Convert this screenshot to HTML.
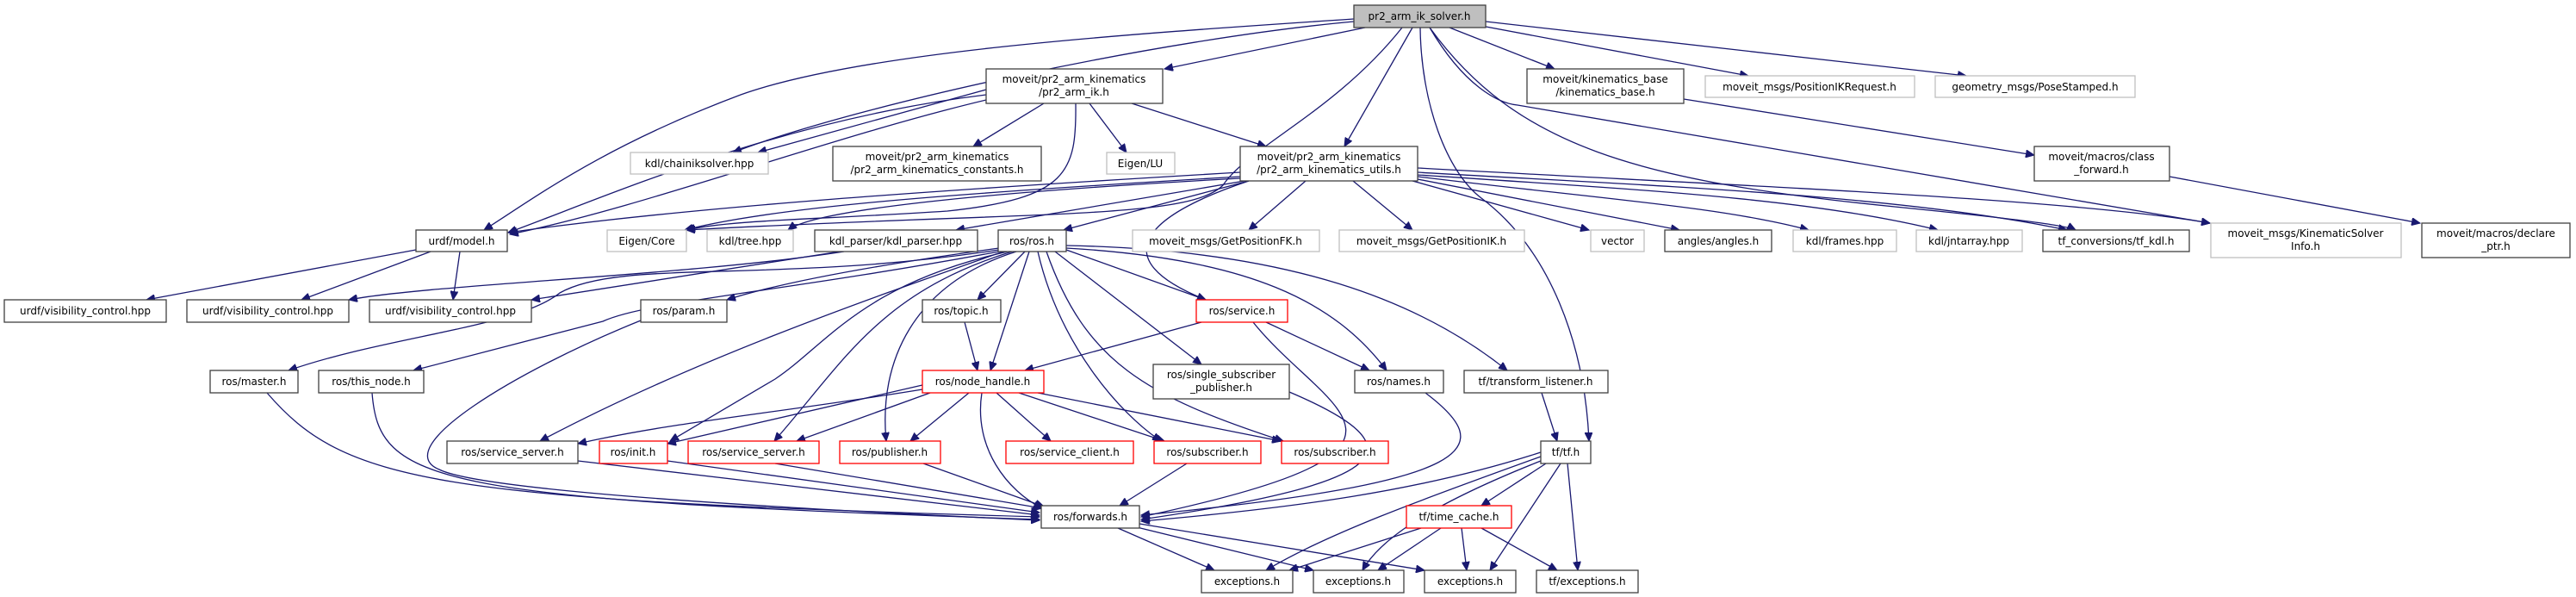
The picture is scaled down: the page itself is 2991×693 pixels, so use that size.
<!DOCTYPE html>
<html><head><meta charset="utf-8"><style>
html,body{margin:0;padding:0;background:#fff;}
svg{display:block;}
text{font-family:"DejaVu Sans","Liberation Sans",sans-serif;font-size:12px;fill:#000;text-anchor:middle;}
.e{fill:none;stroke:#191970;stroke-width:1.3;marker-end:url(#a);}
.b{fill:#fff;stroke:#404040;stroke-width:1.3;}
.g{fill:#fff;stroke:#bfbfbf;stroke-width:1.3;}
.r{fill:#fff;stroke:#ff0000;stroke-width:1.3;}
.s{fill:#bfbfbf;stroke:#404040;stroke-width:1.3;}
</style></head><body>
<svg width="2991" height="693" viewBox="0 0 2991 693" xmlns="http://www.w3.org/2000/svg">
<defs><marker id="a" markerUnits="userSpaceOnUse" markerWidth="11" markerHeight="9" refX="10" refY="4.5" orient="auto"><path d="M0,0 L10,4.5 L0,9 z" fill="#191970" stroke="#191970"/></marker></defs>
<g>
<!-- S edges -->
<path class="e" d="M1572,22 C1300,40 1000,60 860,110 C700,170 620,230 562,267"/>
<path class="e" d="M1572,25 C1350,45 1000,120 851,177"/>
<path class="e" d="M1585,32 L1352,80"/>
<path class="e" d="M1640,32 L1561,170"/>
<path class="e" d="M1683,32 L1805,80"/>
<path class="e" d="M1720,30 L2030,88"/>
<path class="e" d="M1725,25 L2283,88"/>
<path class="e" d="M1660,32 C1700,100 1740,120 1762,122 L2566,259"/>
<path class="e" d="M1649,32 C1650,120 1680,200 1720,230 C1800,290 1840,400 1845,512"/>
<path class="e" d="M1628,32 C1550,130 1450,170 1420,215 C1380,255 1200,245 797,267"/>
<path class="e" d="M1660,32 C1760,170 1900,210 2200,240 C2350,255 2400,262 2410,267"/>
<!-- A edges -->
<path class="e" d="M1145,110 C900,140 700,230 590,270"/>
<path class="e" d="M1145,116 C960,160 750,240 592,272"/>
<path class="e" d="M1145,104 L880,177"/>
<path class="e" d="M1212,120 L1130,170"/>
<path class="e" d="M1265,120 L1308,177"/>
<path class="e" d="M1314,120 L1470,170"/>
<path class="e" d="M1249,120 C1250,200 1240,230 1100,245 C950,255 850,255 797,267"/>
<!-- U edges -->
<path class="e" d="M1440,200 C1100,220 800,240 590,270"/>
<path class="e" d="M1440,205 C1100,225 900,240 795,267"/>
<path class="e" d="M1440,207 C1200,220 950,240 915,267"/>
<path class="e" d="M1445,210 L1110,267"/>
<path class="e" d="M1450,210 L1235,267"/>
<path class="e" d="M1516,210 L1450,267"/>
<path class="e" d="M1571,210 L1640,267"/>
<path class="e" d="M1640,210 L1845,267"/>
<path class="e" d="M1646,208 L1950,267"/>
<path class="e" d="M1646,205 C1850,230 2000,240 2100,267"/>
<path class="e" d="M1646,203 C1900,220 2100,230 2250,267"/>
<path class="e" d="M1646,200 C1900,215 2200,225 2400,267"/>
<path class="e" d="M1646,195 C2000,215 2400,230 2566,259"/>
<path class="e" d="M1450,210 C1330,250 1280,300 1400,348"/>
<!-- kinbase / macros -->
<path class="e" d="M1955,115 L2362,180"/>
<path class="e" d="M2519,205 L2810,259"/>
<!-- urdf -->
<path class="e" d="M483,290 L170,348"/>
<path class="e" d="M500,292 L350,348"/>
<path class="e" d="M534,292 L526,348"/>
<path class="e" d="M980,292 C800,320 500,330 405,348"/>
<path class="e" d="M975,292 L617,348"/>
<!-- ros.h -->
<path class="e" d="M1160,290 C900,330 720,300 650,340 C600,380 450,390 335,430"/>
<path class="e" d="M1160,292 C900,340 750,350 700,373 L480,430"/>
<path class="e" d="M1160,288 C1000,310 900,330 844,348"/>
<path class="e" d="M1165,292 C1000,350 800,420 627,512"/>
<path class="e" d="M1170,292 C1000,330 960,400 900,440 L778,512"/>
<path class="e" d="M1175,292 C1020,340 980,420 899,512"/>
<path class="e" d="M1180,292 C1060,330 1020,420 1029,512"/>
<path class="e" d="M1190,292 L1135,348"/>
<path class="e" d="M1195,292 L1150,430"/>
<path class="e" d="M1205,292 C1230,400 1300,480 1348,512"/>
<path class="e" d="M1215,292 C1260,420 1330,460 1490,512"/>
<path class="e" d="M1225,292 L1395,423"/>
<path class="e" d="M1238,290 L1400,348"/>
<path class="e" d="M1238,288 C1450,300 1550,350 1610,430"/>
<path class="e" d="M1238,285 C1500,290 1650,350 1750,430"/>
<!-- mid -->
<path class="e" d="M1120,374 L1135,430"/>
<path class="e" d="M1395,374 L1190,430"/>
<path class="e" d="M1470,374 L1590,430"/>
<path class="e" d="M1455,374 C1540,480 1700,520 1325,600"/>
<path class="e" d="M1497,455 C1650,520 1620,560 1325,603"/>
<path class="e" d="M1655,456 C1740,520 1720,560 1325,598"/>
<path class="e" d="M1790,456 L1808,512"/>
<path class="e" d="M1789,525 C1650,570 1500,590 1325,605"/>
<path class="e" d="M1795,538 L1720,587"/>
<path class="e" d="M1789,530 C1650,580 1540,620 1470,662"/>
<path class="e" d="M1789,535 C1650,590 1600,630 1582,662"/>
<path class="e" d="M1812,538 L1730,662"/>
<path class="e" d="M1820,538 L1832,662"/>
<path class="e" d="M1650,613 L1497,662"/>
<path class="e" d="M1673,613 L1600,662"/>
<path class="e" d="M1697,613 L1703,662"/>
<path class="e" d="M1720,613 L1808,662"/>
<path class="e" d="M1298,613 L1410,662"/>
<path class="e" d="M1320,612 L1525,662"/>
<path class="e" d="M1323,608 L1654,662"/>
<path class="e" d="M1071,452 C900,480 780,490 671,515"/>
<path class="e" d="M1071,447 L775,515"/>
<path class="e" d="M1080,456 L925,512"/>
<path class="e" d="M1125,456 L1057,512"/>
<path class="e" d="M1157,456 L1220,512"/>
<path class="e" d="M1183,456 L1352,512"/>
<path class="e" d="M1205,456 L1487,512"/>
<path class="e" d="M1140,456 C1130,520 1170,570 1210,590"/>
<path class="e" d="M310,456 C400,560 500,580 1207,600"/>
<path class="e" d="M432,456 C440,560 500,580 1207,603"/>
<path class="e" d="M744,372 C600,430 450,520 510,545 C560,570 900,590 1207,604"/>
<path class="e" d="M671,535 L1207,598"/>
<path class="e" d="M775,535 L1207,595"/>
<path class="e" d="M900,538 L1210,590"/>
<path class="e" d="M1072,538 L1212,588"/>
<path class="e" d="M1378,538 L1300,587"/>
</g>
<g>
<rect class="s" x="1572" y="6" width="153" height="26"/><text x="1648" y="23">pr2_arm_ik_solver.h</text>
<rect class="b" x="1145" y="80" width="205" height="40"/><text x="1247" y="96">moveit/pr2_arm_kinematics</text><text x="1247" y="111">/pr2_arm_ik.h</text>
<rect class="b" x="1773" y="80" width="182" height="40"/><text x="1864" y="96">moveit/kinematics_base</text><text x="1864" y="111">/kinematics_base.h</text>
<rect class="g" x="1980" y="88" width="243" height="25"/><text x="2101" y="105">moveit_msgs/PositionIKRequest.h</text>
<rect class="g" x="2247" y="88" width="232" height="25"/><text x="2363" y="105">geometry_msgs/PoseStamped.h</text>
<rect class="g" x="732" y="177" width="160" height="25"/><text x="812" y="194">kdl/chainiksolver.hpp</text>
<rect class="b" x="967" y="170" width="242" height="40"/><text x="1088" y="186">moveit/pr2_arm_kinematics</text><text x="1088" y="201">/pr2_arm_kinematics_constants.h</text>
<rect class="g" x="1285" y="177" width="79" height="25"/><text x="1324" y="194">Eigen/LU</text>
<rect class="b" x="1440" y="170" width="206" height="40"/><text x="1543" y="186">moveit/pr2_arm_kinematics</text><text x="1543" y="201">/pr2_arm_kinematics_utils.h</text>
<rect class="b" x="2362" y="170" width="157" height="40"/><text x="2440" y="186">moveit/macros/class</text><text x="2440" y="201">_forward.h</text>
<rect class="b" x="483" y="267" width="106" height="25"/><text x="536" y="284">urdf/model.h</text>
<rect class="g" x="705" y="267" width="92" height="25"/><text x="751" y="284">Eigen/Core</text>
<rect class="g" x="821" y="267" width="100" height="25"/><text x="871" y="284">kdl/tree.hpp</text>
<rect class="b" x="946" y="267" width="189" height="25"/><text x="1040" y="284">kdl_parser/kdl_parser.hpp</text>
<rect class="b" x="1159" y="267" width="79" height="25"/><text x="1198" y="284">ros/ros.h</text>
<rect class="g" x="1315" y="267" width="217" height="25"/><text x="1423" y="284">moveit_msgs/GetPositionFK.h</text>
<rect class="g" x="1555" y="267" width="215" height="25"/><text x="1662" y="284">moveit_msgs/GetPositionIK.h</text>
<rect class="g" x="1847" y="267" width="62" height="25"/><text x="1878" y="284">vector</text>
<rect class="b" x="1933" y="267" width="124" height="25"/><text x="1995" y="284">angles/angles.h</text>
<rect class="g" x="2082" y="267" width="120" height="25"/><text x="2142" y="284">kdl/frames.hpp</text>
<rect class="g" x="2225" y="267" width="123" height="25"/><text x="2286" y="284">kdl/jntarray.hpp</text>
<rect class="b" x="2372" y="267" width="170" height="25"/><text x="2457" y="284">tf_conversions/tf_kdl.h</text>
<rect class="g" x="2567" y="259" width="221" height="40"/><text x="2677" y="275">moveit_msgs/KinematicSolver</text><text x="2677" y="290">Info.h</text>
<rect class="b" x="2812" y="259" width="172" height="40"/><text x="2898" y="275">moveit/macros/declare</text><text x="2898" y="290">_ptr.h</text>
<rect class="b" x="5" y="348" width="188" height="26"/><text x="99" y="365">urdf/visibility_control.hpp</text>
<rect class="b" x="217" y="348" width="188" height="26"/><text x="311" y="365">urdf/visibility_control.hpp</text>
<rect class="b" x="429" y="348" width="188" height="26"/><text x="523" y="365">urdf/visibility_control.hpp</text>
<rect class="b" x="744" y="348" width="100" height="26"/><text x="794" y="365">ros/param.h</text>
<rect class="b" x="1071" y="348" width="91" height="26"/><text x="1116" y="365">ros/topic.h</text>
<rect class="r" x="1389" y="348" width="106" height="26"/><text x="1442" y="365">ros/service.h</text>
<rect class="b" x="244" y="430" width="102" height="26"/><text x="295" y="447">ros/master.h</text>
<rect class="b" x="370" y="430" width="122" height="26"/><text x="431" y="447">ros/this_node.h</text>
<rect class="r" x="1071" y="430" width="141" height="26"/><text x="1141" y="447">ros/node_handle.h</text>
<rect class="b" x="1339" y="423" width="158" height="40"/><text x="1418" y="439">ros/single_subscriber</text><text x="1418" y="454">_publisher.h</text>
<rect class="b" x="1573" y="430" width="103" height="26"/><text x="1624" y="447">ros/names.h</text>
<rect class="b" x="1700" y="430" width="167" height="26"/><text x="1783" y="447">tf/transform_listener.h</text>
<rect class="b" x="519" y="512" width="152" height="26"/><text x="595" y="529">ros/service_server.h</text>
<rect class="r" x="696" y="512" width="79" height="26"/><text x="735" y="529">ros/init.h</text>
<rect class="r" x="799" y="512" width="152" height="26"/><text x="875" y="529">ros/service_server.h</text>
<rect class="r" x="975" y="512" width="117" height="26"/><text x="1033" y="529">ros/publisher.h</text>
<rect class="r" x="1168" y="512" width="148" height="26"/><text x="1242" y="529">ros/service_client.h</text>
<rect class="r" x="1340" y="512" width="124" height="26"/><text x="1402" y="529">ros/subscriber.h</text>
<rect class="r" x="1488" y="512" width="124" height="26"/><text x="1550" y="529">ros/subscriber.h</text>
<rect class="b" x="1789" y="512" width="58" height="26"/><text x="1818" y="529">tf/tf.h</text>
<rect class="b" x="1209" y="587" width="114" height="26"/><text x="1266" y="604">ros/forwards.h</text>
<rect class="r" x="1633" y="587" width="122" height="26"/><text x="1694" y="604">tf/time_cache.h</text>
<rect class="b" x="1395" y="662" width="106" height="26"/><text x="1448" y="679">exceptions.h</text>
<rect class="b" x="1525" y="662" width="105" height="26"/><text x="1577" y="679">exceptions.h</text>
<rect class="b" x="1654" y="662" width="106" height="26"/><text x="1707" y="679">exceptions.h</text>
<rect class="b" x="1784" y="662" width="118" height="26"/><text x="1843" y="679">tf/exceptions.h</text>
</g>
</svg>
</body></html>
